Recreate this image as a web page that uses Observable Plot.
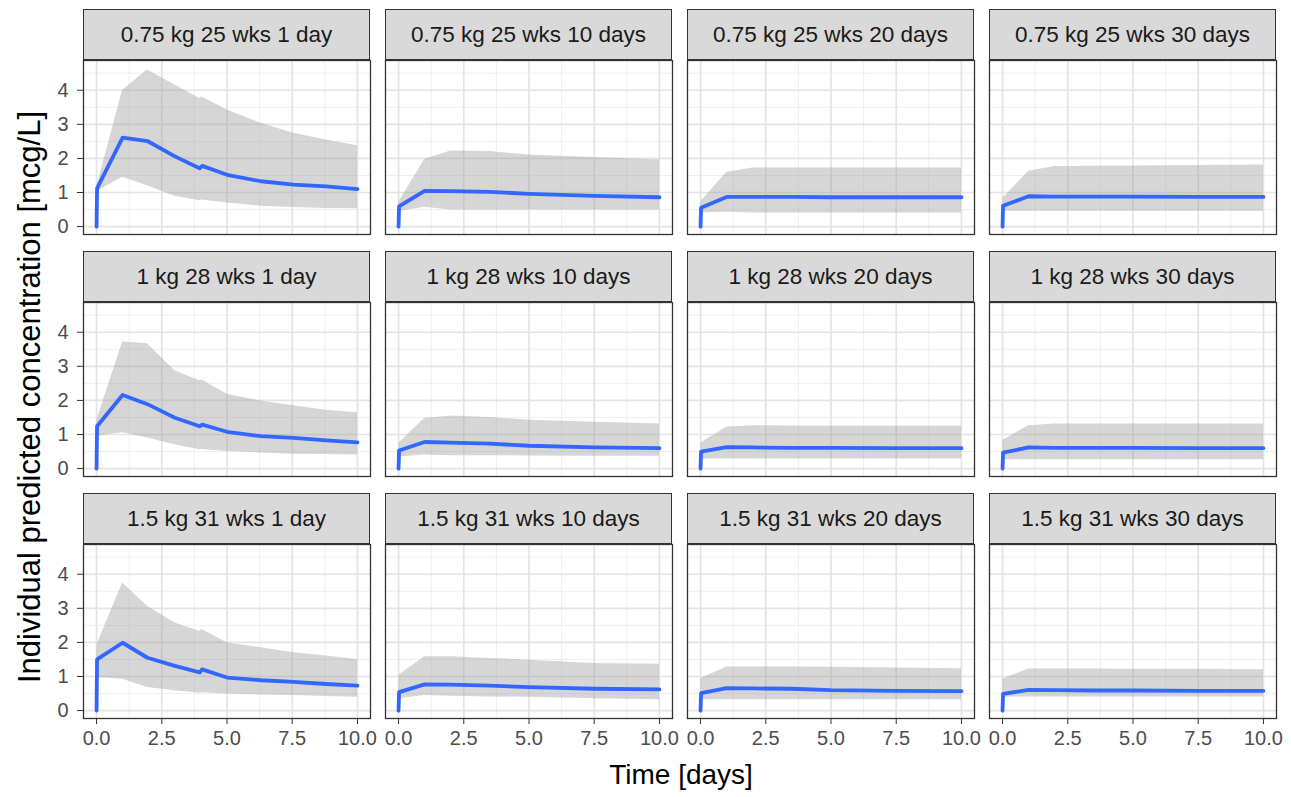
<!DOCTYPE html>
<html><head><meta charset="utf-8">
<script src="https://cdn.jsdelivr.net/npm/d3@7"></script>
<script src="https://cdn.jsdelivr.net/npm/@observablehq/plot@0.6"></script>
<style>
body{margin:0;background:#fff;}
#chart{position:relative;width:1291px;height:797px;background:#fff;font-family:"Liberation Sans",Arial,sans-serif;overflow:hidden;}
.strip{position:absolute;box-sizing:border-box;border:1.3px solid #333;background:#D9D9D9;color:#1A1A1A;font-size:22.5px;display:flex;align-items:center;justify-content:center;white-space:nowrap;}
.panel{position:absolute;}
.ytitle{position:absolute;left:30px;top:397px;transform:translate(-50%,-50%) rotate(-90deg);font-size:31px;color:#000;white-space:nowrap;}
.xtitle{position:absolute;left:681px;top:775px;transform:translate(-50%,-50%);font-size:28px;color:#000;white-space:nowrap;}
</style></head><body><div id="chart"></div><script>
const panelLabels = [
  "0.75 kg 25 wks 1 day", "0.75 kg 25 wks 10 days", "0.75 kg 25 wks 20 days", "0.75 kg 25 wks 30 days",
  "1 kg 28 wks 1 day", "1 kg 28 wks 10 days", "1 kg 28 wks 20 days", "1 kg 28 wks 30 days",
  "1.5 kg 31 wks 1 day", "1.5 kg 31 wks 10 days", "1.5 kg 31 wks 20 days", "1.5 kg 31 wks 30 days"
];
const timeFirstDay = [0, 0.02, 1, 1.95, 3, 3.95, 4.05, 5, 6.3, 7.55, 8.8, 10];
const timeLater = [0, 0.02, 1, 2, 3.5, 5, 7.5, 10];

const medians = [
  [0, 1.12, 2.61, 2.51, 2.06, 1.71, 1.78, 1.52, 1.33, 1.23, 1.18, 1.10],
  [0, 0.59, 1.05, 1.04, 1.02, 0.96, 0.90, 0.86],
  [0, 0.55, 0.87, 0.87, 0.87, 0.86, 0.86, 0.86],
  [0, 0.61, 0.89, 0.88, 0.88, 0.88, 0.87, 0.87],
  [0, 1.24, 2.16, 1.89, 1.49, 1.24, 1.29, 1.08, 0.95, 0.90, 0.83, 0.77],
  [0, 0.53, 0.78, 0.76, 0.73, 0.67, 0.62, 0.60],
  [0, 0.50, 0.63, 0.62, 0.61, 0.61, 0.60, 0.60],
  [0, 0.47, 0.62, 0.61, 0.61, 0.61, 0.60, 0.60],
  [0, 1.50, 1.99, 1.55, 1.31, 1.12, 1.21, 0.97, 0.89, 0.84, 0.78, 0.73],
  [0, 0.54, 0.77, 0.76, 0.73, 0.69, 0.64, 0.62],
  [0, 0.51, 0.66, 0.65, 0.64, 0.60, 0.58, 0.57],
  [0, 0.49, 0.61, 0.60, 0.59, 0.59, 0.58, 0.58]
];
const lowers = [
  [null, 1.03, 1.45, 1.20, 0.89, 0.76, 0.78, 0.69, 0.60, 0.56, 0.53, 0.52],
  [null, 0.44, 0.57, 0.49, 0.49, 0.49, 0.49, 0.49],
  [null, 0.40, 0.42, 0.40, 0.40, 0.40, 0.40, 0.40],
  [null, 0.45, 0.45, 0.45, 0.45, 0.45, 0.45, 0.45],
  [null, 0.95, 1.05, 0.90, 0.70, 0.55, 0.56, 0.50, 0.46, 0.42, 0.41, 0.40],
  [null, 0.34, 0.40, 0.38, 0.38, 0.37, 0.36, 0.36],
  [null, 0.28, 0.28, 0.28, 0.28, 0.28, 0.28, 0.28],
  [null, 0.26, 0.26, 0.26, 0.26, 0.26, 0.26, 0.26],
  [null, 0.97, 0.92, 0.68, 0.58, 0.51, 0.52, 0.49, 0.46, 0.44, 0.41, 0.39],
  [null, 0.35, 0.44, 0.42, 0.40, 0.39, 0.35, 0.32],
  [null, 0.32, 0.32, 0.32, 0.32, 0.32, 0.32, 0.32],
  [null, 0.40, 0.40, 0.40, 0.40, 0.40, 0.40, 0.40]
];
const uppers = [
  [null, 1.20, 4.00, 4.59, 4.15, 3.76, 3.80, 3.42, 3.03, 2.74, 2.54, 2.37],
  [null, 0.73, 1.97, 2.22, 2.20, 2.10, 2.03, 1.95],
  [null, 0.74, 1.59, 1.72, 1.72, 1.72, 1.72, 1.72],
  [null, 0.84, 1.62, 1.76, 1.77, 1.78, 1.79, 1.81],
  [null, 1.44, 3.71, 3.66, 2.87, 2.58, 2.60, 2.18, 1.98, 1.84, 1.71, 1.64],
  [null, 0.75, 1.47, 1.54, 1.50, 1.42, 1.36, 1.31],
  [null, 0.75, 1.22, 1.26, 1.25, 1.24, 1.24, 1.24],
  [null, 0.83, 1.26, 1.31, 1.31, 1.31, 1.31, 1.31],
  [null, 1.94, 3.74, 3.06, 2.57, 2.33, 2.38, 1.99, 1.84, 1.70, 1.60, 1.50],
  [null, 1.04, 1.58, 1.58, 1.53, 1.48, 1.38, 1.36],
  [null, 0.94, 1.28, 1.28, 1.28, 1.27, 1.25, 1.23],
  [null, 0.93, 1.22, 1.22, 1.22, 1.21, 1.21, 1.20]
];
const xTicks = [0, 2.5, 5, 7.5, 10];
const xMinor = [1.25, 3.75, 6.25, 8.75];
const yTicks = [0, 1, 2, 3, 4];
const yMinor = [0.5, 1.5, 2.5, 3.5, 4.5];
const xTitle = "Time [days]";
const yTitle = "Individual predicted concentration [mcg/L]";

const chart = document.getElementById("chart");
const colX = [83, 385, 687, 989];
const rowY = [9, 251, 493];
const panelW = 287, stripH = 51, plotH = 174;
const ML = 44, MB = 44;

panelLabels.forEach((label, i) => {
  const r = Math.floor(i / 4), c = i % 4;
  const times = c === 0 ? timeFirstDay : timeLater;
  const rows = times.map((t, k) => ({t, med: medians[i][k], lo: lowers[i][k], hi: uppers[i][k]}));
  const showY = c === 0, showX = r === 2;

  const strip = document.createElement("div");
  strip.className = "strip";
  strip.style.left = colX[c] + "px";
  strip.style.top = rowY[r] + "px";
  strip.style.width = panelW + "px";
  strip.style.height = stripH + "px";
  strip.textContent = label;
  chart.appendChild(strip);

  const marks = [
    Plot.ruleY(yMinor, {stroke: "#EBEBEB", strokeWidth: 0.8}),
    Plot.ruleX(xMinor, {stroke: "#EBEBEB", strokeWidth: 0.8}),
    Plot.ruleY(yTicks, {stroke: "#E4E4E4", strokeWidth: 1.7}),
    Plot.ruleX(xTicks, {stroke: "#E4E4E4", strokeWidth: 1.7}),
    Plot.areaY(rows, {x: "t", y1: "lo", y2: "hi", fill: "#999999", fillOpacity: 0.4}),
    Plot.line(rows, {x: "t", y: "med", stroke: "#3366FF", strokeWidth: 3.8, strokeLinejoin: "round"}),
    Plot.frame({stroke: "#333333", strokeWidth: 1.3})
  ];
  if (showY) marks.push(Plot.axisY(yTicks, {tickSize: 6, tickPadding: 9, stroke: "#333333", fill: "#4D4D4D", fontSize: 20, label: null}));
  if (showX) marks.push(Plot.axisX(xTicks, {tickSize: 6, tickPadding: 6, stroke: "#333333", fill: "#4D4D4D", fontSize: 20, label: null, tickFormat: d => d.toFixed(1)}));

  const svg = Plot.plot({
    width: panelW + (showY ? ML : 0),
    height: plotH + (showX ? MB : 0),
    marginLeft: showY ? ML : 0,
    marginRight: 0,
    marginTop: 0,
    marginBottom: showX ? MB : 0,
    x: {domain: [-0.5, 10.5], ...(showX ? {} : {axis: null})},
    y: {domain: [-0.232, 4.872], ...(showY ? {} : {axis: null})},
    style: {background: "transparent", overflow: "visible", fontFamily: "'Liberation Sans', Arial, sans-serif", fontSize: "20px"},
    marks
  });
  const holder = document.createElement("div");
  holder.className = "panel";
  holder.style.left = (colX[c] - (showY ? ML : 0)) + "px";
  holder.style.top = (rowY[r] + stripH) + "px";
  holder.appendChild(svg);
  chart.appendChild(holder);
});

const yt = document.createElement("div");
yt.className = "ytitle";
yt.textContent = yTitle;
chart.appendChild(yt);
const xt = document.createElement("div");
xt.className = "xtitle";
xt.textContent = xTitle;
chart.appendChild(xt);
</script></body></html>
